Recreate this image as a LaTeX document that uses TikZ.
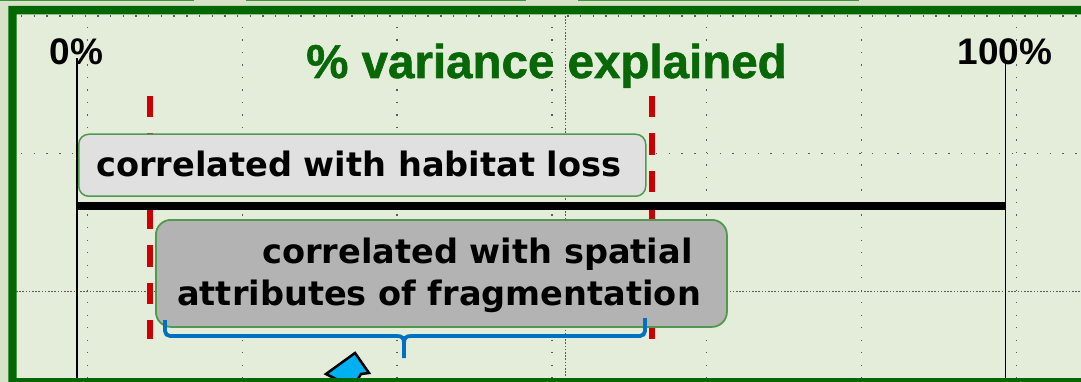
\documentclass[tikz,border=0pt]{standalone}
\usepackage{fontspec}
\newfontfamily\titlefont{Liberation Sans}
\newfontfamily\titleheavy{Liberation Sans}[BoldFeatures={FakeBold=1.2}]
\newfontfamily\comicfont{DejaVu Sans}
\definecolor{outerbg}{HTML}{D7E2C8}
\definecolor{innerbg}{HTML}{E4EDD9}
\definecolor{framegreen}{HTML}{036803}
\definecolor{topgreen}{HTML}{3A963A}
\definecolor{titlegreen}{HTML}{086808}
\definecolor{boxgreen}{HTML}{4F9A4F}
\definecolor{boxlight}{HTML}{E0E0E0}
\definecolor{boxdark}{HTML}{B3B3B3}
\definecolor{redc}{HTML}{CC0000}
\definecolor{bracec}{HTML}{0070C0}
\definecolor{arrowc}{HTML}{00B0F0}
\definecolor{gridgray}{HTML}{5A5A5A}
\begin{document}
\begin{tikzpicture}[x=1pt,y=-1pt,
  gridv/.style={draw=gridgray, line width=1.4pt, dash pattern=on 1.4pt off 11.1pt},
  gridh/.style={draw=gridgray, line width=1.4pt, dash pattern=on 1.4pt off 11.3pt},
  griddense/.style={draw=gridgray, line width=1pt, dash pattern=on 1.6pt off 1.6pt},
  axisline/.style={draw=black, line width=1.6pt},
  scaleline/.style={draw=black, line width=8pt},
  redline/.style={draw=redc, line width=6pt, dash pattern=on 21.5pt off 15.8pt},
  boxhab/.style={rectangle, rounded corners=10pt, draw=boxgreen, line width=1.5pt, fill=boxlight, inner sep=0pt},
  boxfrag/.style={rectangle, rounded corners=15pt, draw=boxgreen, line width=1.8pt, fill=boxdark, inner sep=0pt},
  boxtext/.style={font=\comicfont\bfseries\fontsize{33.6}{40}\selectfont, inner sep=0pt, text=black},
  pctlabel/.style={font=\titlefont\bfseries\fontsize{37}{40}\selectfont, inner sep=0pt, text=black, anchor=base},
  titlestyle/.style={font=\titleheavy\bfseries\fontsize{47.5}{50}\selectfont, inner sep=0pt, text=titlegreen, anchor=base},
  bracestyle/.style={draw=bracec, line width=3.8pt, rounded corners=5pt},
  bracetip/.style={draw=bracec, line width=3.8pt},
  arrowstyle/.style={fill=arrowc, draw=black, line width=2.5pt, line join=miter}
]
\useasboundingbox (0,0) rectangle (1081,382);
\clip (0,0) rectangle (1081,382);
% outer strip and inner background
\fill[outerbg] (0,0) rectangle (1081,382);
\fill[innerbg] (16,14) rectangle (1081,382);
% top thin green lines
\draw[topgreen, line width=1.5pt] (0,0.5) -- (194,0.5);
\draw[topgreen, line width=1.5pt] (246,0.5) -- (526,0.5);
\draw[topgreen, line width=1.5pt] (578,0.5) -- (859,0.5);
% grid
\foreach \gx in {87.5,242.3,397.1,551.9,706.7,861.5,1016.3} {
  \draw[gridv] (\gx,27) -- (\gx,382);
}
\draw[gridh] (21,16) -- (1081,16);
\draw[gridh] (21,153.3) -- (1081,153.3);
\draw[griddense] (16,291) -- (1081,291);
\draw[griddense] (565,16) -- (565,382);
% axis lines
\coordinate (axL1) at (76.7,58);
\coordinate (axL2) at (76.7,382);
\coordinate (axR1) at (1005.3,63);
\coordinate (axR2) at (1005.3,382);
\draw[axisline] (axL1) -- (axL2);
\draw[axisline] (axR1) -- (axR2);
% red dashed limits
\coordinate (redA1) at (149.7,96);
\coordinate (redA2) at (149.7,339);
\coordinate (redB1) at (651.5,96);
\coordinate (redB2) at (651.5,339);
\draw[redline] (redA1) -- (redA2);
\draw[redline] (redB1) -- (redB2);
% thick scale line
\coordinate (scL) at (76.7,206.5);
\coordinate (scR) at (1005.3,206.5);
\draw[scaleline] (scL) -- (scR);
% labels
\node[pctlabel] (zero) at (76.5,65) {0\%};
\node[pctlabel] (hundred) at (1005,65) {100\%};
\node[titlestyle] (title) at (546.5,78) {\% variance explained};
% boxes
\node[boxhab, anchor=north west, minimum width=567pt, minimum height=62pt] (habbox) at (78,133.5) {};
\node[boxtext, anchor=base west] (habtext) at (96,177) {correlated with habitat loss};
\node[boxfrag, anchor=north west, minimum width=571pt, minimum height=107pt] (fragbox) at (155,219) {};
\node[boxtext, anchor=base west] (fragtextA) at (262,263) {correlated with spatial};
\node[boxtext, anchor=base west] (fragtextB) at (177,305) {attributes of fragmentation};
% brace
\coordinate (brL) at (165,320);
\coordinate (brR) at (645,318);
\coordinate (brTip) at (404,358);
\draw[bracestyle] (brL) -- (165,336) -- (397,336);
\draw[bracetip] (397,336) .. controls (402,336) and (404,338) .. (404,343) -- (brTip);
\draw[bracetip] (404,343) .. controls (404,338) and (406,336) .. (411,336);
\draw[bracestyle] (411,336) -- (645,336) -- (brR);
% pointer arrow
\draw[arrowstyle] (355,353) -- (369,373) -- (361,374) -- (350,392) -- (332,392) -- (338,380) -- (326,374) -- cycle;
% frame
\fill[framegreen, even odd rule] (8.3,6) rectangle (1090,392) (16.5,14.5) rectangle (1090,378);
\end{tikzpicture}
\end{document}
